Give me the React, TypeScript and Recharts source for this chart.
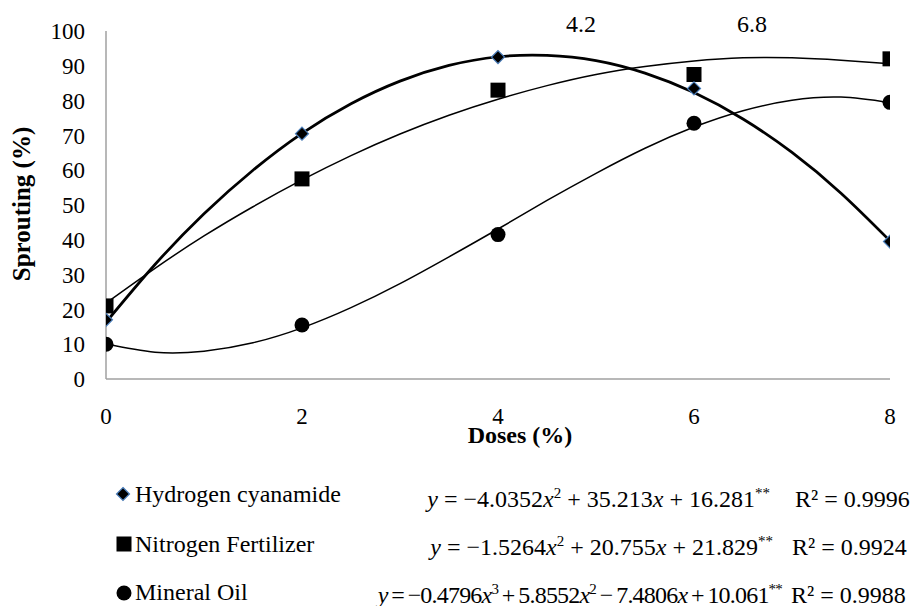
import React from 'react';
import { ComposedChart, Line, Scatter, XAxis, YAxis } from 'recharts';

// Observed data
const doses = [0, 2, 4, 6, 8];
const hydrogenCyanamide = [17, 70.5, 92.5, 83.5, 39.5];
const nitrogenFertilizer = [21, 57.5, 83, 87.5, 92];
const mineralOil = [10, 15.5, 41.5, 73.5, 79.5];

// Trend curves
const trendX = [0, 0.5, 1, 1.5, 2, 2.5, 3, 3.5, 4, 4.5, 5, 5.5, 6, 6.5, 7, 7.5, 8];
const hcTrend = [16.3, 32.9, 47.5, 60.0, 70.6, 79.1, 85.6, 90.1, 92.6, 93.0, 91.5, 87.9, 82.3, 74.7, 65.1, 53.4, 39.7];
const nfTrend = [21.8, 31.8, 41.1, 49.5, 57.2, 64.2, 70.4, 75.8, 80.4, 84.3, 87.5, 89.8, 91.4, 92.3, 92.3, 91.6, 90.6];
const moTrend = [10.1, 7.7, 8.0, 10.4, 14.7, 20.5, 27.4, 35.1, 43.1, 51.3, 59.1, 66.3, 72.4, 77.1, 80.1, 81.0, 79.4];

const xTicks = [0, 2, 4, 6, 8];
const yTicks = [0, 10, 20, 30, 40, 50, 60, 70, 80, 90, 100];
const peakLabels = [
  { text: '4.2', x: 581 },
  { text: '6.8', x: 752 },
];

const seriesNames = ['Hydrogen cyanamide', 'Nitrogen Fertilizer', 'Mineral Oil'];

const FONT = '"Liberation Serif", Tinos, "Times New Roman", Times, "DejaVu Serif", serif';

const pts = (ys: number[]) => doses.map((x, i) => ({ x, y: ys[i] }));
const trend = (ys: number[]) => trendX.map((x, i) => ({ x, y: ys[i] }));

const Diamond = (props: any) => {
  const { cx, cy } = props;
  const r = 6.5;
  return (
    <path
      d={`M${cx},${cy - r} L${cx + r},${cy} L${cx},${cy + r} L${cx - r},${cy} Z`}
      fill="#000"
      stroke="#4a7ebb"
      strokeWidth={1.2}
    />
  );
};
const Square = (props: any) => {
  const { cx, cy } = props;
  const s = 15;
  return <rect x={cx - s / 2} y={cy - s / 2} width={s} height={s} fill="#000" />;
};
const Circle = (props: any) => {
  const { cx, cy } = props;
  return <circle cx={cx} cy={cy} r={7.5} fill="#000" />;
};

const tickStyle = { fill: '#000', fontSize: 23, fontFamily: FONT };

const abs = (style: React.CSSProperties): React.CSSProperties => ({
  position: 'absolute',
  fontFamily: FONT,
  fontSize: 24,
  lineHeight: '20px',
  whiteSpace: 'nowrap',
  color: '#000',
  ...style,
});

const BL = 18.1; // baseline offset from div top

const sup: React.CSSProperties = { fontSize: 15, verticalAlign: 'top', lineHeight: '15px', position: 'relative', top: -3 };

export default function App() {
  return (
    <div style={{ position: 'absolute', left: 0, top: 0, width: 913, height: 606, background: '#fff', overflow: 'hidden', fontFamily: FONT }}>
      <ComposedChart
        width={913}
        height={606}
        margin={{ top: 31, right: 23, bottom: 197, left: 46 }}
      >
        <XAxis
          type="number"
          dataKey="x"
          domain={[0, 8]}
          ticks={xTicks}
          allowDataOverflow
          tickLine={false}
          tickSize={0}
          tickMargin={29}
          height={30}
          stroke="#a0a0a0"
          strokeWidth={1.5}
          tick={tickStyle}
        />
        <YAxis
          type="number"
          domain={[0, 100]}
          ticks={yTicks}
          allowDataOverflow
          tickLine={false}
          tickSize={0}
          tickMargin={21}
          width={60}
          stroke="#a0a0a0"
          strokeWidth={1.5}
          tick={tickStyle}
        />
        <Line data={trend(nfTrend)} dataKey="y" type="natural" stroke="#000" strokeWidth={1.5} dot={false} isAnimationActive={false} />
        <Line data={trend(moTrend)} dataKey="y" type="natural" stroke="#000" strokeWidth={1.5} dot={false} isAnimationActive={false} />
        <Line data={trend(hcTrend)} dataKey="y" type="natural" stroke="#000" strokeWidth={2.75} dot={false} isAnimationActive={false} />
        <Scatter data={pts(nitrogenFertilizer)} dataKey="y" shape={Square} isAnimationActive={false} />
        <Scatter data={pts(mineralOil)} dataKey="y" shape={Circle} isAnimationActive={false} />
        <Scatter data={pts(hydrogenCyanamide)} dataKey="y" shape={Diamond} isAnimationActive={false} />
      </ComposedChart>

      {/* Y axis title */}
      <div
        style={abs({
          left: 22,
          top: 204,
          fontSize: 25,
          fontWeight: 'bold',
          transform: 'translate(-50%, -50%) rotate(-90deg)',
        })}
      >
        Sprouting (%)
      </div>
      {/* X axis title */}
      <div style={abs({ left: 520, top: 443 - BL, fontWeight: 'bold', transform: 'translateX(-50%)' })}>Doses (%)</div>

      {peakLabels.map((p) => (
        <div key={p.text} style={abs({ left: p.x, top: 32 - BL, transform: 'translateX(-50%)' })}>
          {p.text}
        </div>
      ))}

      {/* Legend */}
      <svg style={{ position: 'absolute', left: 0, top: 0 }} width={913} height={606}>
        <Diamond cx={123} cy={494} />
        <Square cx={124} cy={544} />
        <Circle cx={124} cy={593} />
      </svg>
      <div style={abs({ left: 135, top: 502 - BL })}>{seriesNames[0]}</div>
      <div style={abs({ left: 135, top: 552 - BL })}>{seriesNames[1]}</div>
      <div style={abs({ left: 135, top: 600 - BL })}>{seriesNames[2]}</div>

      {/* Equations */}
      <div style={abs({ right: 913 - 770, top: 507 - BL })}>
        <i>y</i> = −4.0352<i>x</i><span style={sup}>2</span> + 35.213<i>x</i> + 16.281<span style={sup}>**</span>
      </div>
      <div style={abs({ left: 795, top: 507 - BL })}>R² = 0.9996</div>
      <div style={abs({ right: 913 - 773, top: 555 - BL })}>
        <i>y</i> = −1.5264<i>x</i><span style={sup}>2</span> + 20.755<i>x</i> + 21.829<span style={sup}>**</span>
      </div>
      <div style={abs({ left: 792, top: 555 - BL })}>R² = 0.9924</div>
      <div style={abs({ right: 913 - 782, top: 603 - BL, letterSpacing: -0.8, wordSpacing: -1.5 })}>
        <i>y</i> = −0.4796<i>x</i><span style={sup}>3</span> + 5.8552<i>x</i><span style={sup}>2</span> − 7.4806<i>x</i> + 10.061<span style={sup}>**</span>
      </div>
      <div style={abs({ left: 791, top: 603 - BL })}>R² = 0.9988</div>
    </div>
  );
}
